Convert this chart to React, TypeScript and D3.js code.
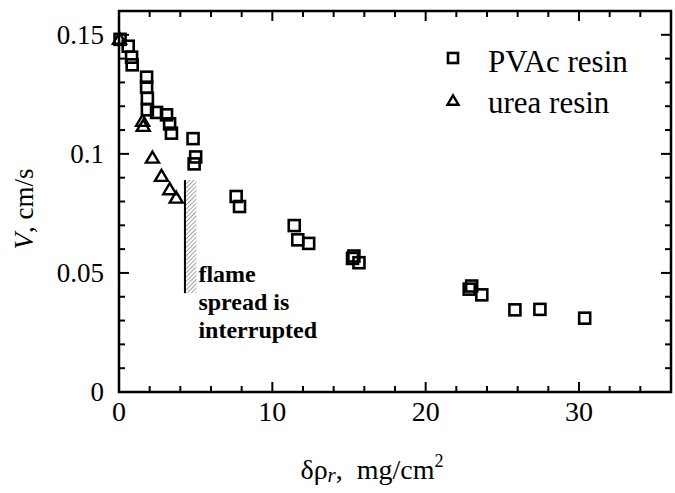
import React from "react";
import * as d3 from "d3";

// PVAc resin (squares)
const PVAC_X = [0.07, 0.6, 0.82, 0.86, 1.8, 1.8, 1.85, 1.85, 2.45, 3.1, 3.3, 3.42, 4.83, 5.0, 4.9, 7.64, 7.86, 11.43, 11.66, 12.37, 15.32, 15.23, 15.65, 23.0, 22.84, 23.66, 25.82, 27.45, 30.37];
const PVAC_Y = [0.1481, 0.1452, 0.1406, 0.1374, 0.1322, 0.128, 0.1233, 0.1185, 0.1174, 0.1164, 0.1126, 0.1087, 0.1064, 0.0987, 0.0958, 0.0821, 0.0779, 0.0699, 0.0639, 0.0624, 0.0571, 0.0561, 0.0543, 0.0445, 0.0432, 0.0408, 0.0345, 0.0347, 0.031];
// urea resin (triangles)
const UREA_X = [0.03, 1.54, 1.58, 2.18, 2.77, 3.31, 3.73];
const UREA_Y = [0.1481, 0.1136, 0.1115, 0.0982, 0.0905, 0.0849, 0.0814];

const X_MAJOR = [0, 10, 20, 30];
const X_MINOR = d3.range(0, 37, 2);
const Y_MAJOR = [0, 0.05, 0.1, 0.15];
const Y_MINOR = d3.range(0, 0.1601, 0.01);
const Y_LABELS = ["0", "0.05", "0.1", "0.15"];

const LEGEND = ["PVAc resin", "urea resin"];
const NOTE = ["flame", "spread is", "interrupted"];
// interruption band in data units
const BAND_X = [4.3, 5.05];
const BAND_Y = [0.0415, 0.089];

const W = 675, H = 493;
const FONT = "'Liberation Serif', 'Times New Roman', serif";

export default function App() {
  const x = d3.scaleLinear().domain([0, 36]).range([119, 671]);
  const y = d3.scaleLinear().domain([0, 0.16]).range([392, 11]);
  const [x0, x1] = x.range();
  const [y0, y1] = y.range();
  const MAJ = 10, MIN = 6;
  const sq = 11;
  const tri = (cx: number, cy: number, s: number) => {
    const h = s * 0.85;
    return `M${cx},${cy - h * 0.6}L${cx + s / 2},${cy + h * 0.4}L${cx - s / 2},${cy + h * 0.4}Z`;
  };
  const stroke = "#000";
  return (
    <svg width={W} height={H} style={{ position: "absolute", left: 0, top: 0, background: "#fff" }} fontFamily={FONT}>
      <defs>
        <pattern id="hatch" patternUnits="userSpaceOnUse" width={3} height={3} patternTransform="rotate(45)">
          <line x1={0} y1={0} x2={0} y2={3} stroke="#444" strokeWidth={1} />
        </pattern>
      </defs>
      <rect x={0} y={0} width={W} height={H} fill="#fff" />
      {/* ticks */}
      {X_MINOR.map((v) => {
        const len = X_MAJOR.includes(v) ? MAJ : MIN;
        return (
          <g key={"xt" + v}>
            <line x1={x(v)} x2={x(v)} y1={y0} y2={y0 - len} stroke={stroke} strokeWidth={2} />
            <line x1={x(v)} x2={x(v)} y1={y1} y2={y1 + len} stroke={stroke} strokeWidth={2} />
          </g>
        );
      })}
      {Y_MINOR.map((v, i) => {
        const isMaj = i % 5 === 0;
        const len = isMaj ? MAJ : MIN;
        return (
          <g key={"yt" + i}>
            <line x1={x0} x2={x0 + len} y1={y(v)} y2={y(v)} stroke={stroke} strokeWidth={2} />
            <line x1={x1} x2={x1 - len} y1={y(v)} y2={y(v)} stroke={stroke} strokeWidth={2} />
          </g>
        );
      })}
      <rect x={x0} y={y1} width={x1 - x0} height={y0 - y1} fill="none" stroke={stroke} strokeWidth={2.5} />
      {/* tick labels */}
      {X_MAJOR.map((v) => (
        <text key={"xl" + v} x={x(v)} y={y0 + 29} fontSize={28} textAnchor="middle">{v}</text>
      ))}
      {Y_MAJOR.map((v, i) => (
        <text key={"yl" + v} x={x0 - 15} y={y(v) + 9} fontSize={27} textAnchor="end">{Y_LABELS[i]}</text>
      ))}
      {/* axis titles */}
      <text x={372} y={479} fontSize={28} textAnchor="middle">
        <tspan>δρ</tspan>
        <tspan fontStyle="italic" fontSize={21} dy={3}>r</tspan>
        <tspan dy={-3}>,{"\u00A0\u00A0"}mg/cm</tspan>
        <tspan fontSize={18} dy={-12}>2</tspan>
      </text>
      <text transform="translate(33,209) rotate(-90)" fontSize={27} textAnchor="middle">
        <tspan fontStyle="italic">V</tspan>
        <tspan>, cm/s</tspan>
      </text>
      {/* interruption band */}
      <rect x={x(BAND_X[0])} y={y(BAND_Y[1])} width={x(BAND_X[1]) - x(BAND_X[0])} height={y(BAND_Y[0]) - y(BAND_Y[1])} fill="url(#hatch)" />
      <line x1={x(BAND_X[0])} x2={x(BAND_X[0])} y1={y(BAND_Y[1])} y2={y(BAND_Y[0])} stroke={stroke} strokeWidth={2} />
      {NOTE.map((t, i) => (
        <text key={t} x={x(BAND_X[1]) + 2} y={282 + i * 28} fontSize={24} fontWeight="bold">{t}</text>
      ))}
      {/* data */}
      {PVAC_X.map((v, i) => (
        <rect key={"p" + i} x={x(v) - sq / 2} y={y(PVAC_Y[i]) - sq / 2} width={sq} height={sq} fill="none" stroke={stroke} strokeWidth={2.6} />
      ))}
      {UREA_X.map((v, i) => (
        <path key={"u" + i} d={tri(x(v), y(UREA_Y[i]), 13)} fill="none" stroke={stroke} strokeWidth={2.4} strokeLinejoin="miter" />
      ))}
      {/* legend */}
      <rect x={453 - 5} y={58 - 5} width={10} height={10} fill="none" stroke={stroke} strokeWidth={2.6} />
      <path d={tri(453, 101, 11)} fill="none" stroke={stroke} strokeWidth={2.4} />
      <text x={488} y={72} fontSize={31}>{LEGEND[0]}</text>
      <text x={488} y={113} fontSize={31}>{LEGEND[1]}</text>
    </svg>
  );
}
